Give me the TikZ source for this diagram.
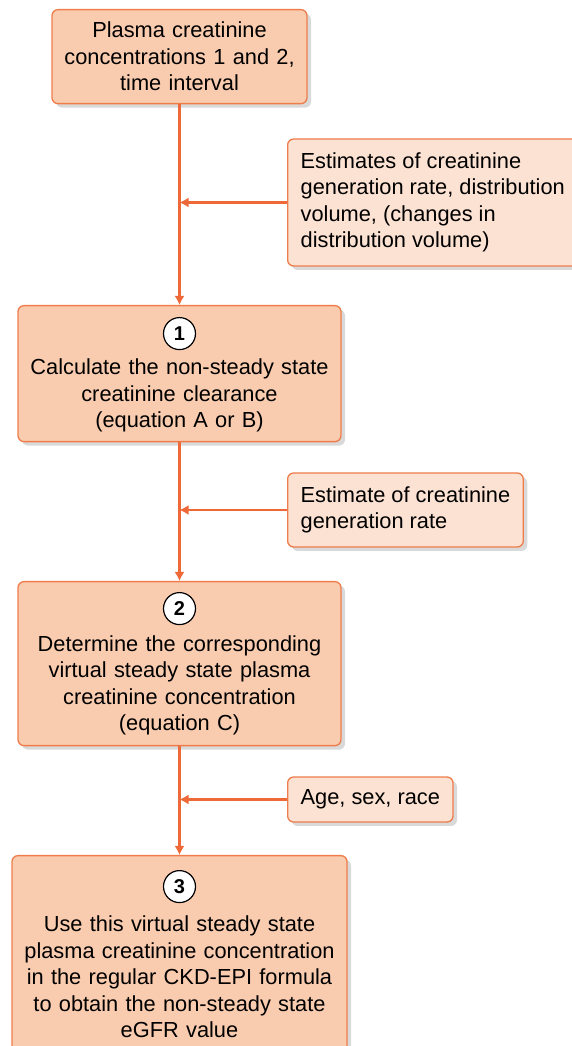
\documentclass[tikz,border=0pt]{standalone}
\usepackage{fontspec}
\setmainfont{Liberation Sans}
\usetikzlibrary{positioning,shadows,arrows.meta}
\definecolor{boxfill}{RGB}{250,204,175}
\definecolor{sidefill}{RGB}{252,226,210}
\definecolor{boxline}{RGB}{239,125,75}
\definecolor{flowline}{RGB}{238,104,56}
\begin{document}
\begin{tikzpicture}[>={Latex[length=9bp,width=10bp]},line join=bevel,
  every node/.style={font=\fontsize{21.8bp}{26.5bp}\selectfont},
  mainbox/.style={draw=boxline,fill=boxfill,line width=1.3bp,rounded corners=6bp,
    align=center,inner xsep=8bp,inner ysep=0bp,anchor=north,
    drop shadow={shadow xshift=4bp,shadow yshift=-4bp,opacity=0.3}},
  sidebox/.style={draw=boxline,fill=sidefill,line width=1.3bp,rounded corners=6bp,
    align=left,inner xsep=13bp,inner ysep=0bp,anchor=west,
    drop shadow={shadow xshift=4bp,shadow yshift=-4bp,opacity=0.3}},
  stepnum/.style={circle,draw=black,fill=white,line width=1.2bp,minimum size=32bp,
    inner sep=0pt,font=\fontsize{20bp}{24bp}\selectfont\bfseries},
  flowline/.style={draw=flowline,line width=2.6bp}]
  \useasboundingbox (0bp,0bp) rectangle (572bp,1046bp);
%%
  % Node: plasma
  \node[mainbox,text width=239bp,minimum height=94bp] (plasma) at (179.5bp,1037bp)
    {Plasma creatinine\\concentrations 1 and 2,\\time interval};
  % Node: estimates
  \node[sidebox,minimum height=127bp] (estimates) at (287bp,843.5bp)
    {Estimates of creatinine\\generation rate, distribution\\volume, (changes in\\distribution volume)};
  % Node: clearance
  \node[mainbox,text width=307bp,minimum height=136bp] (clearance) at (179.5bp,741bp)
    {\rule{0pt}{33bp}\\Calculate the non-steady state\\creatinine clearance\\(equation A or B)};
  \node[stepnum,below=12bp of clearance.north] (one) {1};
  % Node: genrate
  \node[sidebox,minimum height=74bp] (genrate) at (287bp,536bp)
    {Estimate of creatinine\\generation rate};
  % Node: virtual
  \node[mainbox,text width=307bp,minimum height=164bp] (virtual) at (179.5bp,465bp)
    {\rule{0pt}{33bp}\\Determine the corresponding\\virtual steady state plasma\\creatinine concentration\\(equation C)};
  \node[stepnum,below=11bp of virtual.north] (two) {2};
  % Node: demog
  \node[sidebox,minimum height=45bp] (demog) at (287bp,246.5bp) {Age, sex, race};
  % Node: egfr
  \node[mainbox,text width=319bp,minimum height=199bp] (egfr) at (179.5bp,191bp)
    {\rule{0pt}{33bp}\\Use this virtual steady state\\plasma creatinine concentration\\in the regular CKD-EPI formula\\to obtain the non-steady state\\eGFR value};
  \node[stepnum,below=15bp of egfr.north] (three) {3};
%%
  % Edge: plasma -> clearance
  \draw[flowline,->] (plasma.south) -- (clearance.north);
  % Edge: estimates -> trunk
  \draw[flowline,->] (estimates.west) -- (estimates.west -| plasma.south);
  % Edge: clearance -> virtual
  \draw[flowline,->] (clearance.south) -- (virtual.north);
  % Edge: genrate -> trunk
  \draw[flowline,->] (genrate.west) -- (genrate.west -| clearance.south);
  % Edge: virtual -> egfr
  \draw[flowline,->] (virtual.south) -- (egfr.north);
  % Edge: demog -> trunk
  \draw[flowline,->] (demog.west) -- (demog.west -| virtual.south);
%
\end{tikzpicture}
\end{document}
